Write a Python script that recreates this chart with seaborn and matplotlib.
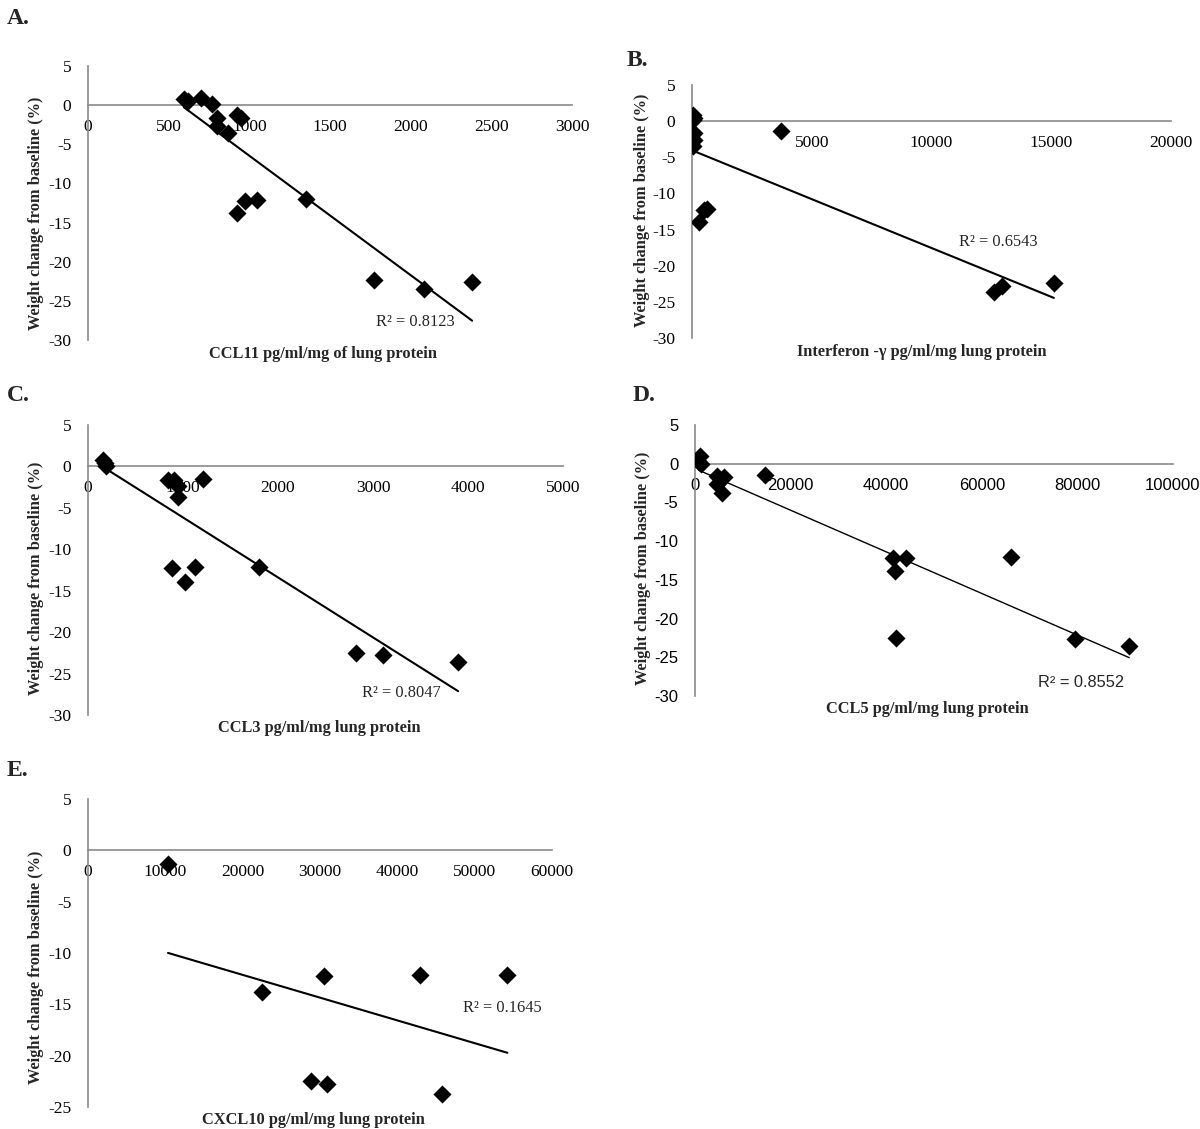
import numpy as np
import pandas as pd
import matplotlib.pyplot as plt
import seaborn as sns

sns.set_style('white')
plt.rcParams['font.family'] = ['Liberation Serif', 'DejaVu Serif']

# weight change from baseline (%) vs chemokine levels
ccl11 = [595, 619, 702, 769, 802, 798, 867, 921, 950, 926, 976, 1045, 1350, 1771, 2081, 2381]
ccl11_wt = [0.8, 0.5, 0.9, 0.2, -1.6, -2.7, -3.6, -1.3, -1.7, -13.8, -12.3, -12.1, -12.0, -22.3, -23.5, -22.6]

ifng = [50, 80, 30, 90, 70, 60, 3730, 290, 515, 640, 12620, 12940, 15110]
ifng_wt = [0.8, 0.5, 0.2, -1.7, -2.6, -3.5, -1.4, -13.9, -12.3, -12.1, -23.7, -22.8, -22.4]

ccl3 = [162, 178, 190, 845, 909, 946, 950, 1213, 881, 1124, 1023, 1803, 2817, 3108, 3896]
ccl3_wt = [0.8, 0.4, 0.1, -1.6, -1.6, -2.4, -3.7, -1.5, -12.3, -12.1, -14.0, -12.1, -22.5, -22.8, -23.6]

ccl5 = [1046, 724, 1207, 14720, 4500, 6030, 4670, 5710, 41510, 44090, 41920, 66050, 42080, 79480, 90830]
ccl5_wt = [0.95, 0.4, 0.0, -1.4, -1.6, -1.7, -2.6, -3.8, -12.2, -12.2, -13.9, -12.1, -22.5, -22.7, -23.6]

cxcl10 = [10350, 22490, 30550, 42890, 54230, 28860, 30950, 45720]
cxcl10_wt = [-1.36, -13.8, -12.2, -12.1, -12.1, -22.5, -22.8, -23.7]

W, H = 1200, 1129
AXIS_GREY = '#8a8a8a'


def draw_panel(fig, box, x, y, xmax, xstep, ymin, r2, r2_xy, xlabel, xlabel_px,
               ylabel_px, letter, letter_px, tick_family, tick_size=12.5, lw=1.5, zero_label=True):
    # box is (left, top, right, bottom) in pixels
    l, t, r, b = box
    ax = fig.add_axes([l / W, 1 - b / H, (r - l) / W, (b - t) / H])
    df = pd.DataFrame({'x': x, 'y': y})
    sns.regplot(data=df, x='x', y='y', ax=ax, ci=None, marker='D',
                scatter_kws={'s': 85, 'color': 'black', 'alpha': 1, 'zorder': 5, 'linewidths': 0},
                line_kws={'color': 'black', 'lw': lw, 'zorder': 4})
    ax.set_xlim(0, xmax)
    ax.set_ylim(ymin, 5)
    xt = np.arange(0, xmax + 1, xstep)
    ax.set_xticks(xt)
    labels = [str(int(v)) for v in xt]
    if not zero_label:
        labels[0] = ''
    ax.set_xticklabels(labels)
    yt = np.arange(ymin, 6, 5)
    ax.set_yticks(yt)
    ax.set_yticklabels([str(int(v)) for v in yt])
    ax.spines['top'].set_visible(False)
    ax.spines['right'].set_visible(False)
    ax.spines['bottom'].set_position(('data', 0))
    for s in ('left', 'bottom'):
        ax.spines[s].set_color(AXIS_GREY)
        ax.spines[s].set_linewidth(1.2)
    ax.tick_params(axis='both', direction='out', length=5, width=1, color=AXIS_GREY,
                   labelcolor='black', labelsize=tick_size)
    ax.tick_params(axis='y', pad=7)
    ax.tick_params(axis='x', pad=5)
    for lab in ax.get_xticklabels() + ax.get_yticklabels():
        lab.set_family(tick_family)
    ax.set_xlabel('')
    ax.set_ylabel('')
    ax.text(r2_xy[0], r2_xy[1], r2, family=tick_family, fontsize=11.8, ha='center', va='center')
    fig.text(xlabel_px[0] / W, 1 - xlabel_px[1] / H, xlabel, fontsize=11.8, weight='bold',
             ha='center', va='center')
    fig.text(ylabel_px[0] / W, 1 - ylabel_px[1] / H, 'Weight change from baseline (%)',
             fontsize=11.8, weight='bold', rotation=90, ha='center', va='center')
    fig.text(letter_px[0] / W, 1 - letter_px[1] / H, letter, fontsize=17, weight='bold',
             ha='left', va='center')
    return ax


fig = plt.figure(figsize=(12, 11.29), dpi=100)

draw_panel(fig, (88, 66, 572, 340), ccl11, ccl11_wt, 3000, 500, -30, 'R² = 0.8123', (2030, -27.7),
           'CCL11 pg/ml/mg of lung protein', (323, 354), (36, 213), 'A.', (7, 18),
           'Liberation Serif')

draw_panel(fig, (692, 85, 1171, 338), ifng, ifng_wt, 20000, 5000, -30, 'R² = 0.6543', (12780, -16.7),
           'Interferon -γ pg/ml/mg lung protein', (922, 352), (642, 210), 'B.', (627, 60),
           'Liberation Serif', zero_label=False)

draw_panel(fig, (88, 425, 563, 715), ccl3, ccl3_wt, 5000, 1000, -30, 'R² = 0.8047', (3300, -27.3),
           'CCL3 pg/ml/mg lung protein', (319, 728), (36, 578), 'C.', (7, 395),
           'Liberation Serif')

draw_panel(fig, (695, 425, 1173, 696), ccl5, ccl5_wt, 100000, 20000, -30, 'R² = 0.8552', (80750, -28.3),
           'CCL5 pg/ml/mg lung protein', (927, 709), (643, 568), 'D.', (633, 395),
           'Liberation Sans', tick_size=12, lw=1.0)

draw_panel(fig, (88, 799, 552, 1107), cxcl10, cxcl10_wt, 60000, 10000, -25, 'R² = 0.1645', (53550, -15.35),
           'CXCL10 pg/ml/mg lung protein', (313, 1120), (36, 967), 'E.', (7, 771),
           'Liberation Serif')

fig.savefig('out.png', dpi=100, facecolor='white')
